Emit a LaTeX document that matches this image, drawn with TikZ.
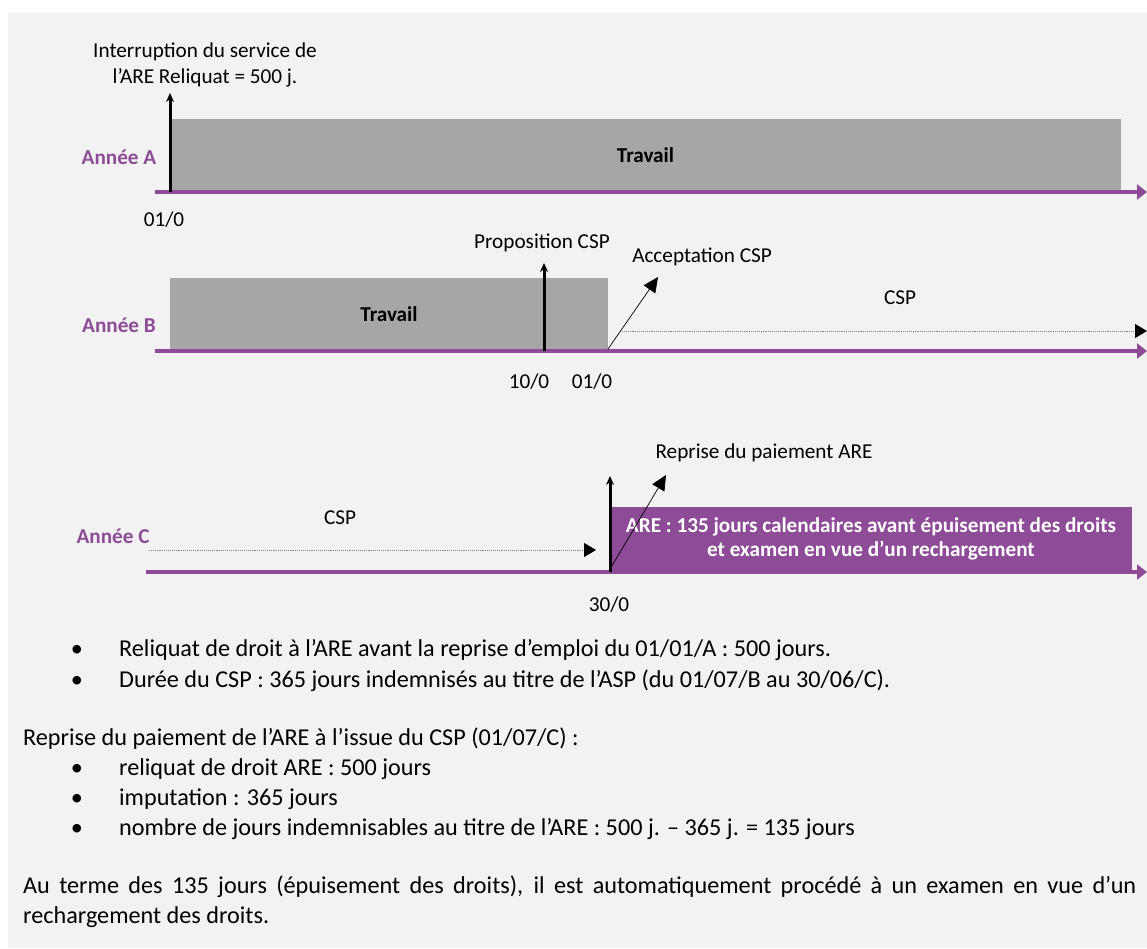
\documentclass[tikz,border=0pt]{standalone}
\usepackage{fontspec}
\setmainfont{Carlito}
\usetikzlibrary{arrows.meta,positioning}
\definecolor{prune}{RGB}{142,75,151}
\definecolor{fond}{RGB}{242,242,242}
\definecolor{gristravail}{RGB}{166,166,166}
\newcommand{\txt}{\fontsize{21.2}{26}\selectfont}
\newcommand{\txtcorps}{\fontsize{24.2}{30}\selectfont}

\begin{document}
\begin{tikzpicture}[x=1pt,y=-1pt,>=Stealth,line cap=butt,
  axe/.style={prune,line width=3.5pt,-{Triangle[length=10pt,width=15pt]}},
  evt/.style={line width=3pt,-{Stealth[length=9pt,width=8pt,inset=3pt]}},
  fleche/.style={line width=0.7pt,-{Triangle[length=15pt,width=14pt]}},
  pointille/.style={gray,densely dotted,line width=0.9pt,-{Triangle[length=12pt,width=14pt,color=black]}},
  annee/.style={prune,font=\txt\bfseries,inner sep=0pt},
  lbl/.style={font=\txt,inner sep=0pt},
  bloc/.style={fill=gristravail,font=\txt\bfseries,inner sep=0pt},
  corps/.style={anchor=base west,font=\txtcorps,inner sep=0pt},
  puce/.style={anchor=base,font=\txtcorps,inner sep=0pt}]
  \useasboundingbox (0,0) rectangle (1147,949);
  \fill[white] (0,0) rectangle (1147,949);
  \fill[fond] (8,13) rectangle (1147,948);

  % annee A
  \node[annee] (anA) at (119,157) {Année A};
  \node[bloc,minimum width=951pt,minimum height=72pt] (travA) at (645.5,155) {Travail};
  \coordinate (axA0) at (155,192);
  \coordinate (axA1) at (1147,192);
  \draw[axe] (axA0) -- (axA1);
  \coordinate (dA) at (170,192);
  \coordinate (dAhaut) at (170,93);
  \draw[evt] (dA) -- (dAhaut);
  \node[lbl,align=center] (interr) at (205,65) {Interruption du service de\\l’ARE Reliquat = 500 j.};
  \node[lbl] (jA) at (164,220) {01/0};

  % annee B
  \node[annee] (anB) at (119,325) {Année B};
  \node[bloc,minimum width=438pt,minimum height=72pt] (travB) at (389,314) {Travail};
  \coordinate (axB0) at (155,351);
  \coordinate (axB1) at (1147,351);
  \draw[axe] (axB0) -- (axB1);
  \coordinate (dB) at (544,351);
  \coordinate (dBhaut) at (544,263);
  \draw[evt] (dB) -- (dBhaut);
  \node[lbl] (propo) at (542,243) {Proposition CSP};
  \coordinate (acc0) at (608,349);
  \coordinate (acc1) at (658,277);
  \draw[fleche] (acc0) -- (acc1);
  \node[lbl] (accept) at (702,257) {Acceptation CSP};
  \coordinate (cspB0) at (622,331);
  \coordinate (cspB1) at (1147,331);
  \draw[pointille] (cspB0) -- (cspB1);
  \node[lbl] (cspB) at (900,298) {CSP};
  \node[lbl] (jB1) at (529,382) {10/0};
  \node[lbl] (jB2) at (592,382) {01/0};

  % annee C
  \node[annee] (anC) at (113,536) {Année C};
  \coordinate (cspC0) at (149,550);
  \coordinate (cspC1) at (596,550);
  \draw[pointille] (cspC0) -- (cspC1);
  \node[lbl] (cspC) at (340,518) {CSP};
  \node[fill=prune,text=white,font=\fontsize{21.2}{24}\selectfont\bfseries,inner sep=0pt,align=center,
    minimum width=522pt,minimum height=64pt] (are) at (871,539)
    {ARE : 135 jours calendaires avant épuisement des droits\\et examen en vue d’un rechargement};
  \coordinate (axC0) at (146,572);
  \coordinate (axC1) at (1147,572);
  \draw[axe] (axC0) -- (axC1);
  \coordinate (dC) at (610,572);
  \coordinate (dChaut) at (610,476);
  \draw[evt] (dC) -- (dChaut);
  \coordinate (rep0) at (610,569);
  \coordinate (rep1) at (666,475);
  \draw[fleche] (rep0) -- (rep1);
  \node[lbl] (reprise) at (764,453) {Reprise du paiement ARE};
  \node[lbl] (jC) at (609,605) {30/0};

  % texte
  \node[puce] (p1) at (77,656) {•};
  \node[corps] (t1) at (119,656) {Reliquat de droit à l’ARE avant la reprise d’emploi du 01/01/A : 500 jours.};
  \node[puce] (p2) at (77,687) {•};
  \node[corps] (t2) at (119,687) {Durée du CSP : 365 jours indemnisés au titre de l’ASP (du 01/07/B au 30/06/C).};
  \node[corps] (t3) at (23,745) {Reprise du paiement de l’ARE à l’issue du CSP (01/07/C) :};
  \node[puce] (p4) at (77,775) {•};
  \node[corps] (t4) at (119,775) {reliquat de droit ARE : 500 jours};
  \node[puce] (p5) at (77,805) {•};
  \node[corps] (t5) at (119,805) {imputation : 365 jours};
  \node[puce] (p6) at (77,835) {•};
  \node[corps] (t6) at (119,835) {nombre de jours indemnisables au titre de l’ARE : 500 j. – 365 j. = 135 jours};
  \node[corps,text width=1113pt,align=justify] (t7) at (23,893)
    {Au terme des 135 jours (épuisement des droits), il est automatiquement procédé à un examen en vue d’un\linebreak rechargement des droits.};
\end{tikzpicture}
\end{document}
